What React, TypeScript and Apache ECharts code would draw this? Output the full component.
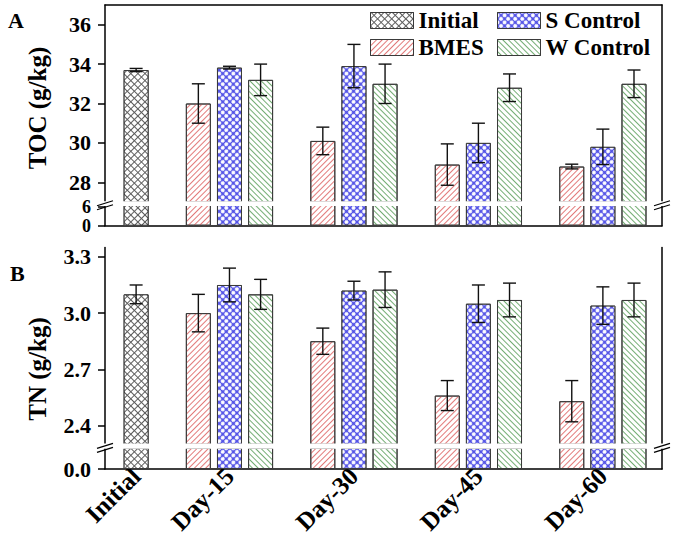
import React, { useEffect, useRef } from "react";
import * as echarts from "echarts";

// ---------- data ----------
const groups = ["Initial", "Day-15", "Day-30", "Day-45", "Day-60"];
const seriesNames = ["Initial", "BMES", "S Control", "W Control"];

// TOC (g/kg)
const tocInitial = [33.7];
const tocBMES = [32.0, 30.1, 28.9, 28.8];
const tocS = [33.82, 33.9, 30.0, 29.8];
const tocW = [33.2, 33.0, 32.8, 33.0];
const tocInitialErr = [0.08];
const tocBMESErr = [1.0, 0.7, 1.05, 0.12];
const tocSErr = [0.07, 1.1, 1.0, 0.9];
const tocWErr = [0.8, 1.0, 0.7, 0.7];

// TN (g/kg)
const tnInitial = [3.1];
const tnBMES = [3.0, 2.85, 2.56, 2.53];
const tnS = [3.15, 3.12, 3.05, 3.04];
const tnW = [3.1, 3.125, 3.07, 3.07];
const tnInitialErr = [0.05];
const tnBMESErr = [0.1, 0.07, 0.08, 0.11];
const tnSErr = [0.09, 0.05, 0.1, 0.1];
const tnWErr = [0.08, 0.095, 0.09, 0.09];

const tocTicksUpper = [28, 30, 32, 34, 36];
const tocTicksLowerTop = [6];
const tocTicksLowerBase = [0];
const tnTicksUpper = [2.4, 2.7, 3.0, 3.3];
const tnTicksLower = [0];

// ---------- layout helpers ----------
// slot positions on a hidden value x-axis: Initial, gap, 3 bars, gap, 3 bars ...
const initialSlot = 0;
const daySlot = (d: number, k: number) => 2 + 4 * d + k;
const labelSlots = [0, 3, 7, 11, 15];

const FONT = "Liberation Serif";
const LEFT = 105;
const RIGHT = 662;
const A_TOP = 5, A_BRK1 = 202, A_BRK2 = 205.5, A_BOT = 225.7;
const B_TOP = 247.5, B_BRK1 = 444.3, B_BRK2 = 448.3, B_BOT = 469;
const A_LOW_MAX = 6.5;

const styles: Record<string, any> = {
  Initial: {
    color: "#5e5e5e",
    decal: { symbol: "rect", color: "#ffffff", dashArrayX: [4, 1], dashArrayY: [4, 1], rotation: Math.PI / 4, symbolSize: 1 },
  },
  BMES: {
    color: "#ffffff",
    decal: { symbol: "rect", color: "#e27a7a", dashArrayX: [1, 0], dashArrayY: [1, 3], rotation: -Math.PI / 4, symbolSize: 1 },
  },
  "S Control": {
    color: "#5050e6",
    decal: { symbol: "circle", color: "#ffffff", dashArrayX: [4, 1], dashArrayY: [4, 1], rotation: Math.PI / 4, symbolSize: 1 },
  },
  "W Control": {
    color: "#ffffff",
    decal: { symbol: "rect", color: "#74ad74", dashArrayX: [1, 0], dashArrayY: [1, 3], rotation: Math.PI / 4, symbolSize: 1 },
  },
};

function seriesData(initial: number[], bmes: number[], s: number[], w: number[]) {
  return {
    Initial: initial.map((v) => [initialSlot, v]),
    BMES: bmes.map((v, d) => [daySlot(d, 0), v]),
    "S Control": s.map((v, d) => [daySlot(d, 1), v]),
    "W Control": w.map((v, d) => [daySlot(d, 2), v]),
  } as Record<string, number[][]>;
}

function errData(
  initial: number[], bmes: number[], s: number[], w: number[],
  ei: number[], eb: number[], es: number[], ew: number[]
) {
  const out: number[][] = [];
  initial.forEach((v, i) => out.push([initialSlot, v, ei[i]]));
  bmes.forEach((v, d) => out.push([daySlot(d, 0), v, eb[d]]));
  s.forEach((v, d) => out.push([daySlot(d, 1), v, es[d]]));
  w.forEach((v, d) => out.push([daySlot(d, 2), v, ew[d]]));
  return out;
}

const errRender = (params: any, api: any) => {
  const x = api.value(0), v = api.value(1), e = api.value(2);
  const t = api.coord([x, v + e]);
  const b = api.coord([x, v - e]);
  const hw = 6.5;
  const st = { stroke: "#111", lineWidth: 1.4 };
  return {
    type: "group",
    children: [
      { type: "line", shape: { x1: t[0], y1: t[1], x2: b[0], y2: b[1] }, style: st },
      { type: "line", shape: { x1: t[0] - hw, y1: t[1], x2: t[0] + hw, y2: t[1] }, style: st },
      { type: "line", shape: { x1: b[0] - hw, y1: b[1], x2: b[0] + hw, y2: b[1] }, style: st },
    ],
  };
};

function breakMarks(x: number, cy: number) {
  const st = { stroke: "#000", lineWidth: 1.3 };
  return [
    { type: "line", z: 101, shape: { x1: x - 8, y1: cy + 0.5, x2: x + 8, y2: cy - 4.5 }, style: st },
    { type: "line", z: 101, shape: { x1: x - 8, y1: cy + 4.5, x2: x + 8, y2: cy - 0.5 }, style: st },
  ];
}

export default function App() {
  const ref = useRef<HTMLDivElement>(null);

  useEffect(() => {
    if (!ref.current) return;
    const chart = echarts.init(ref.current, null, { renderer: "svg" });

    const toc = seriesData(tocInitial, tocBMES, tocS, tocW);
    const tn = seriesData(tnInitial, tnBMES, tnS, tnW);

    const labelStyle = { fontFamily: FONT, fontWeight: "bold", fontSize: 22, color: "#000" };
    const axisLine = { show: true, onZero: false, lineStyle: { color: "#000", width: 1.5 } };

    const grids = [
      { left: LEFT, width: RIGHT - LEFT, top: A_TOP, height: A_BRK1 - A_TOP },
      { left: LEFT, width: RIGHT - LEFT, top: A_BRK2, height: A_BOT - A_BRK2 },
      { left: LEFT, width: RIGHT - LEFT, top: B_TOP, height: B_BRK1 - B_TOP },
      { left: LEFT, width: RIGHT - LEFT, top: B_BRK2, height: B_BOT - B_BRK2 },
    ];

    const xBase = { type: "value", min: -1, max: 16.9, splitLine: { show: false }, axisTick: { show: false } };
    const xAxes = [
      { ...xBase, gridIndex: 0, position: "top", axisLine, axisLabel: { show: false } },
      { ...xBase, gridIndex: 1, position: "bottom", axisLine, axisLabel: { show: false } },
      { ...xBase, gridIndex: 2, position: "bottom", axisLine: { show: false, onZero: false }, axisLabel: { show: false } },
      {
        ...xBase, gridIndex: 3, position: "bottom", axisLine,
        axisLabel: {
          ...labelStyle,
          fontSize: 25,
          customValues: labelSlots,
          rotate: 45,
          margin: 3,
          formatter: (v: number) => {
            const i = labelSlots.indexOf(Math.round(v));
            return i >= 0 ? groups[i] : "";
          },
        },
      },
    ];

    const yLeft = (
      gridIndex: number, min: number, max: number, ticks: number[], dec: number,
      showLine = true, small = false
    ) => ({
      type: "value", gridIndex, min, max, position: "left",
      axisLine: showLine ? axisLine : { show: false, onZero: false }, splitLine: { show: false },
      axisTick: { show: true, length: 7, customValues: ticks, lineStyle: { color: "#000", width: 1.5 } },
      axisLabel: {
        ...labelStyle, margin: 14, customValues: ticks,
        ...(small ? { fontSize: 18, lineHeight: 18 } : {}),
        formatter: (v: number) => v.toFixed(dec),
      },
    });
    const yRight = (gridIndex: number, min: number, max: number) => ({
      type: "value", gridIndex, min, max, position: "right",
      axisLine, splitLine: { show: false }, axisTick: { show: false }, axisLabel: { show: false },
    });

    const yAxes = [
      yLeft(0, 27, 37, tocTicksUpper, 0), yRight(0, 27, 37),
      yLeft(1, 0, A_LOW_MAX, tocTicksLowerTop, 0, true, true), yRight(1, 0, A_LOW_MAX),
      yLeft(2, 2.3, 3.35, tnTicksUpper, 1), yRight(2, 2.3, 3.35),
      yLeft(3, 0, 0.5, tnTicksLower, 1), yRight(3, 0, 0.5),
      yLeft(1, 0, A_LOW_MAX, tocTicksLowerBase, 0, false, true),
    ];

    const series: any[] = [];
    const addBars = (data: Record<string, number[][]>, xi: number, yi: number) => {
      seriesNames.forEach((name) => {
        series.push({
          type: "bar", name, xAxisIndex: xi, yAxisIndex: yi,
          data: data[name], barWidth: 25, barGap: "-100%",
          itemStyle: { ...styles[name], borderColor: "#3a3a3a", borderWidth: 1 },
          emphasis: { disabled: true }, silent: true,
        });
      });
    };
    addBars(toc, 0, 0);
    addBars(toc, 1, 2);
    addBars(tn, 2, 4);
    addBars(tn, 3, 6);

    series.push({
      type: "custom", name: "errTOC", xAxisIndex: 0, yAxisIndex: 0, z: 10, silent: true,
      encode: { x: 0, y: 1 }, renderItem: errRender,
      data: errData(tocInitial, tocBMES, tocS, tocW, tocInitialErr, tocBMESErr, tocSErr, tocWErr),
    });
    series.push({
      type: "custom", name: "errTN", xAxisIndex: 2, yAxisIndex: 4, z: 10, silent: true,
      encode: { x: 0, y: 1 }, renderItem: errRender,
      data: errData(tnInitial, tnBMES, tnS, tnW, tnInitialErr, tnBMESErr, tnSErr, tnWErr),
    });

    const legendBase = {
      orient: "vertical", top: 9, padding: 0, itemWidth: 43, itemHeight: 16, itemGap: 4,
      icon: "rect", selectedMode: false,
      itemStyle: { borderColor: "#3a3a3a", borderWidth: 1 },
      textStyle: { fontFamily: FONT, fontWeight: "bold", fontSize: 23, color: "#000", padding: [0, 0, 0, 0] },
    };

    const graphic: any[] = [
      { type: "rect", z: 100, shape: { x: 95, y: A_BRK1 - 0.8, width: 580, height: A_BRK2 - A_BRK1 + 1.2 }, style: { fill: "#fff" } },
      { type: "rect", z: 100, shape: { x: 95, y: B_BRK1 - 0.8, width: 580, height: B_BRK2 - B_BRK1 + 1.2 }, style: { fill: "#fff" } },
      ...breakMarks(LEFT, (A_BRK1 + A_BRK2) / 2 + 1.5),
      ...breakMarks(RIGHT, (A_BRK1 + A_BRK2) / 2 + 1.5),
      ...breakMarks(LEFT, (B_BRK1 + B_BRK2) / 2 + 1.5),
      ...breakMarks(RIGHT, (B_BRK1 + B_BRK2) / 2 + 1.5),
      {
        type: "text", x: 37, y: 108, rotation: Math.PI / 2,
        style: { text: "TOC (g/kg)", font: `bold 25px "${FONT}"`, fill: "#000", align: "center", verticalAlign: "middle" },
      },
      {
        type: "text", x: 37, y: 369, rotation: Math.PI / 2,
        style: { text: "TN (g/kg)", font: `bold 25px "${FONT}"`, fill: "#000", align: "center", verticalAlign: "middle" },
      },
      {
        type: "text", x: 8, y: 20,
        style: { text: "A", font: `bold 22px "${FONT}"`, fill: "#000", align: "left", verticalAlign: "middle" },
      },
      {
        type: "text", x: 10, y: 273,
        style: { text: "B", font: `bold 22px "${FONT}"`, fill: "#000", align: "left", verticalAlign: "middle" },
      },
    ];

    chart.setOption({
      animation: false,
      backgroundColor: "#fff",
      grid: grids,
      xAxis: xAxes,
      yAxis: yAxes,
      legend: [
        { ...legendBase, left: 370, data: ["Initial", "BMES"] },
        { ...legendBase, left: 497, data: ["S Control", "W Control"] },
      ],
      series,
      graphic,
    });

    return () => chart.dispose();
  }, []);

  return (
    <div
      ref={ref}
      style={{ position: "fixed", left: 0, top: 0, width: 675, height: 545, background: "#fff" }}
    />
  );
}
